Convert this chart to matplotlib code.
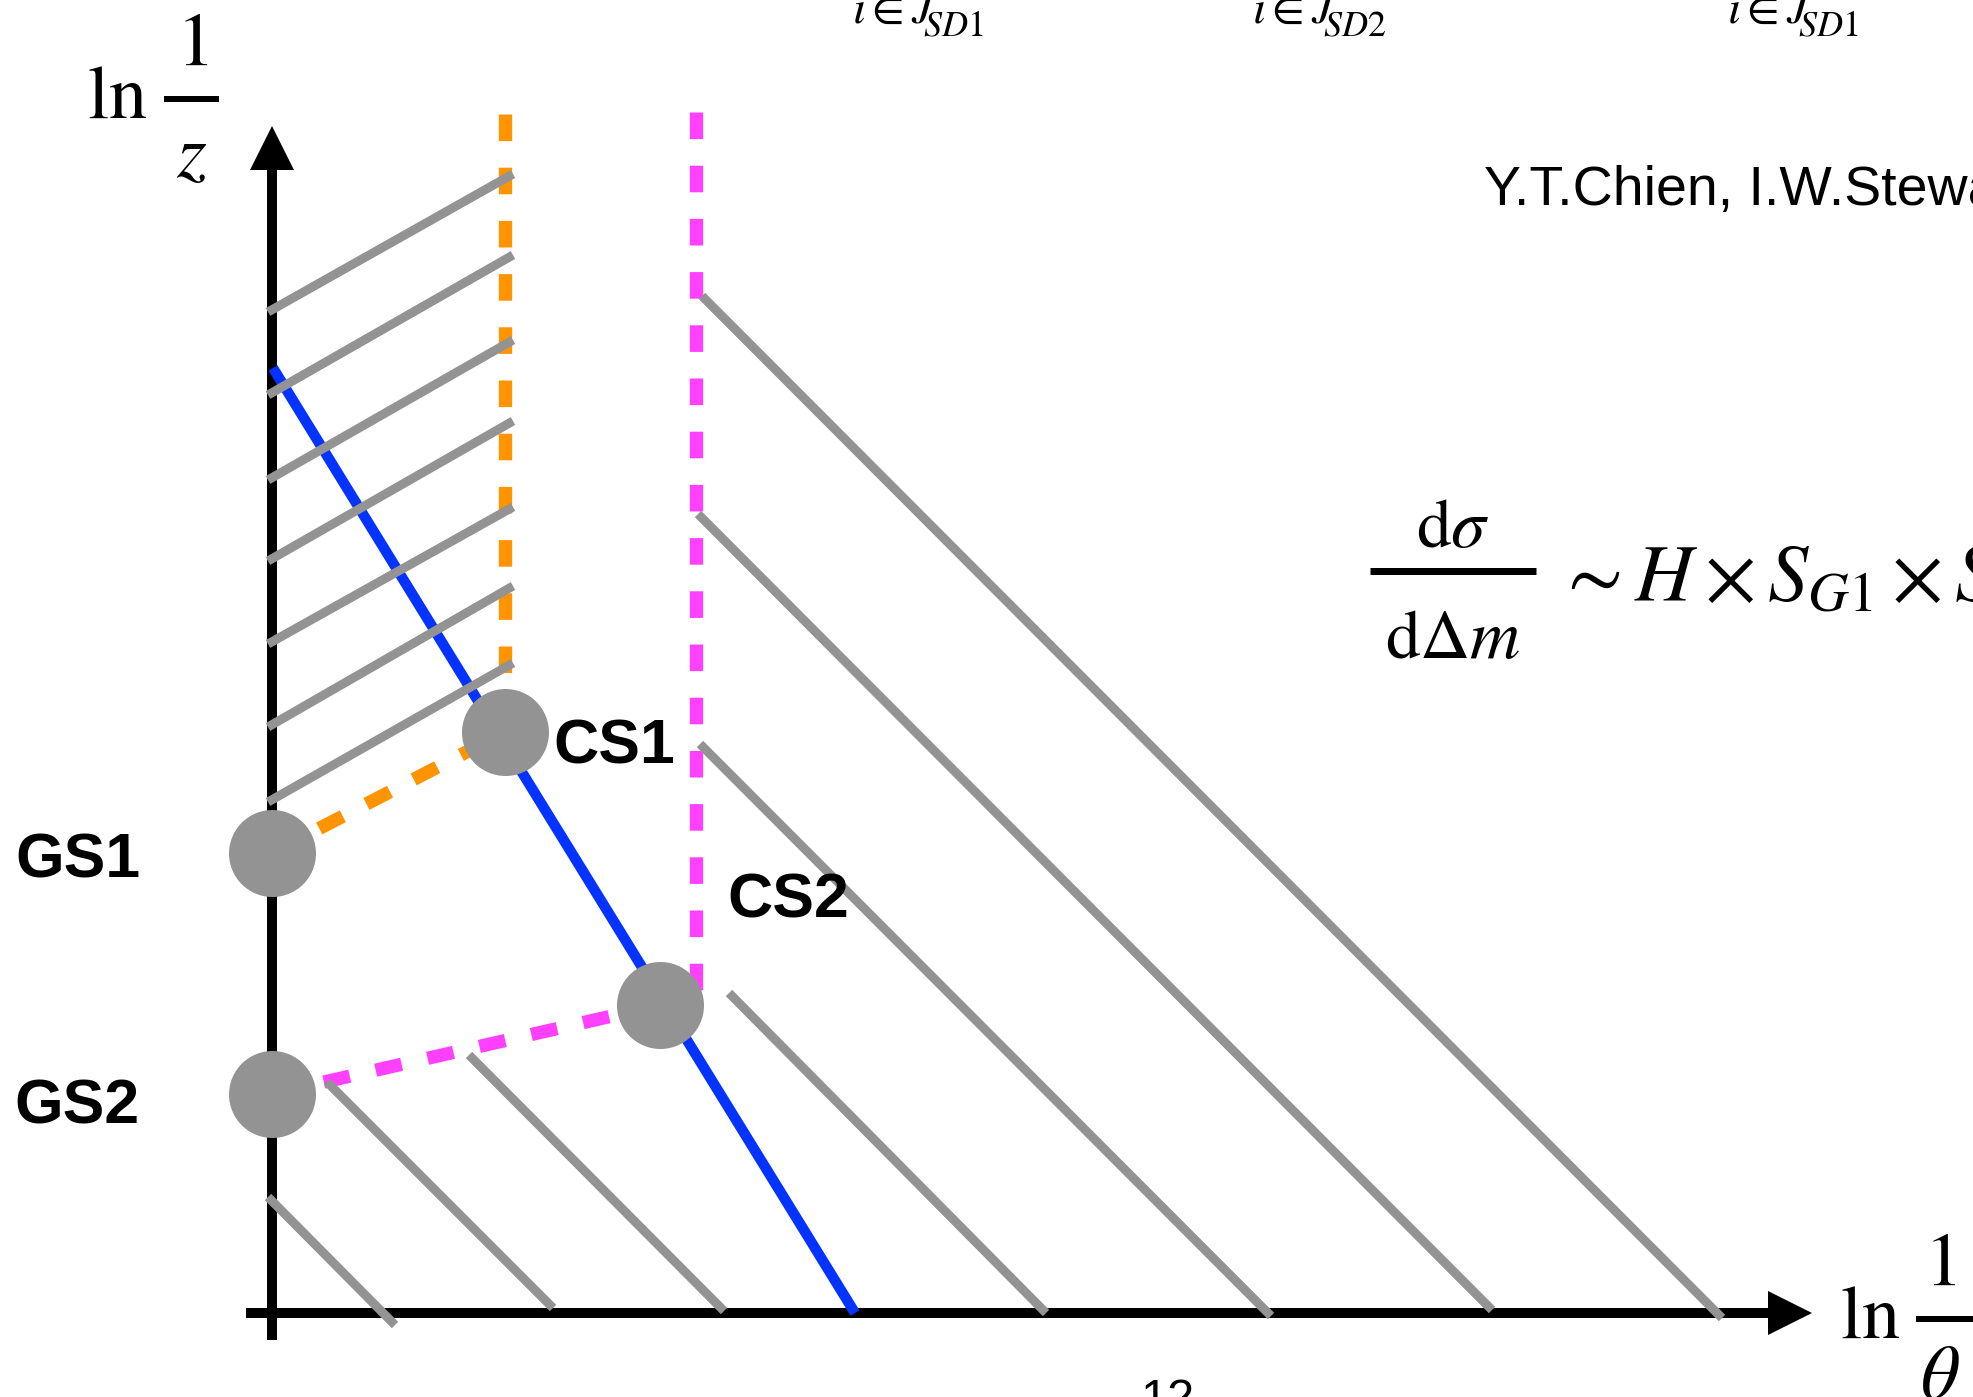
import matplotlib
matplotlib.use("Agg")
import matplotlib.pyplot as plt
import numpy as np

# all coordinates are in pixels of the original slide, y grows downward
W, H = 1973, 1397

GRAY = "#939393"
ORANGE = "#FF9300"
MAGENTA = "#FF40FF"
BLUE = "#0433FF"

# axes of the Lund-like plane
axis_x0, axis_y0 = 272, 1313
v_axis_y = [1340, 170]
h_axis_x = [246, 1768]
v_head_x = [250, 272, 294]
v_head_y = [170, 126, 170]
h_head_x = [1768, 1812, 1768]
h_head_y = [1291, 1313, 1335]

# hatched emissions between the y axis and the orange boundary
hatch_x = [268, 513]
hatch_y_start = [312, 395, 480, 561, 644, 727, 802]
hatch_y_end = [174, 255, 340, 421, 507, 586, 663]

# emissions to the right of the magenta boundary
right_x0 = [702, 698, 700, 729]
right_y0 = [296, 514, 744, 993]
right_x1 = [1722, 1492, 1271, 1046]
right_y1 = [1318, 1310, 1316, 1313]

# emissions below GS2
low_x0 = [268, 327, 469]
low_y0 = [1197, 1082, 1055]
low_x1 = [395, 553, 724]
low_y1 = [1325, 1308, 1311]

# blue line
blue_x = [273, 855]
blue_y = [368, 1313]

# vertical dashed boundaries
orange_x, orange_y = [505, 505], [114, 674]
magenta_x, magenta_y = [696, 696], [112, 992]

# groomed / collinear points
pt_names = ["GS1", "CS1", "GS2", "CS2"]
pt_x = [272, 505, 272, 660]
pt_y = [853, 732, 1094, 1005]
pt_label_x = [15, 553, 14, 727]
pt_label_y = [878, 763, 1123, 918]

# cut-off sum subscripts along the top edge
top_subs = [r"$SD\mathrm{1}$", r"$SD\mathrm{2}$", r"$SD\mathrm{1}$"]
top_main_x = [852, 1252, 1727]
top_sub_x = [923, 1323, 1798]

px = 72 / 100  # points per pixel at dpi 100

plt.rcParams["mathtext.fontset"] = "stix"
fig = plt.figure(figsize=(W / 100, H / 100), dpi=100)
ax = fig.add_axes([0, 0, 1, 1])
ax.set_xlim(0, W)
ax.set_ylim(H, 0)
ax.axis("off")


def fraction(xc, num, den, y_num, y_bar, y_den, bar_x, size, bar_w=6):
    ax.text(xc, y_num, num, fontsize=size, ha="center", va="baseline")
    ax.text(xc, y_den, den, fontsize=size, ha="center", va="baseline")
    ax.plot(bar_x, [y_bar, y_bar], color="black", lw=bar_w * px, solid_capstyle="butt")


# axes
ax.plot([axis_x0, axis_x0], v_axis_y, color="black", lw=10 * px, solid_capstyle="butt", zorder=1)
ax.plot(h_axis_x, [axis_y0, axis_y0], color="black", lw=10 * px, solid_capstyle="butt", zorder=1)
ax.fill(v_head_x, v_head_y, color="black", lw=0, zorder=1)
ax.fill(h_head_x, h_head_y, color="black", lw=0, zorder=1)

dash_kw = dict(lw=13.3 * px, linestyle=(0, (2.0, 2.0)), dash_capstyle="butt", zorder=2)
ax.plot(orange_x, orange_y, color=ORANGE, **dash_kw)
ax.plot(magenta_x, magenta_y, color=MAGENTA, **dash_kw)
ax.plot([pt_x[0], pt_x[1]], [pt_y[0], pt_y[1]], color=ORANGE, **dash_kw)
ax.plot([pt_x[2], pt_x[3]], [pt_y[2], pt_y[3]], color=MAGENTA, **dash_kw)

ax.plot(blue_x, blue_y, color=BLUE, lw=10.5 * px, solid_capstyle="butt", zorder=3)

gray_kw = dict(color=GRAY, lw=9 * px, solid_capstyle="butt", zorder=4)
for y0, y1 in zip(hatch_y_start, hatch_y_end):
    ax.plot(hatch_x, [y0, y1], **gray_kw)
for x0, y0, x1, y1 in zip(right_x0, right_y0, right_x1, right_y1):
    ax.plot([x0, x1], [y0, y1], **gray_kw)
for x0, y0, x1, y1 in zip(low_x0, low_y0, low_x1, low_y1):
    ax.plot([x0, x1], [y0, y1], **gray_kw)

ax.scatter(pt_x, pt_y, s=(87 * px) ** 2, color=GRAY, lw=0, zorder=5)

bold = dict(family="Liberation Sans", fontweight="bold", fontsize=45, ha="left", va="baseline", zorder=6)
for name, lx, ly in zip(pt_names, pt_label_x, pt_label_y):
    ax.text(lx, ly, name, **bold)

# axis titles
ax.text(87, 118, r"$\ln$", fontsize=55, ha="left", va="baseline")
fraction(192, r"$1$", r"$z$", 65, 99, 177, [164, 219], 55)
ax.text(1840, 1338, r"$\ln$", fontsize=55, ha="left", va="baseline")
fraction(1940, r"$1$", r"$\theta$", 1285, 1319, 1398, [1916, 1976], 55)

# cross section formula
fraction(1453, r"$\mathrm{d}\sigma$", r"$\mathrm{d}\Delta m$", 547, 571, 658, [1370, 1536], 50, bar_w=7)
ax.text(1556, 602, r"$\sim H\times S_{G1}\times S_{G2}$", fontsize=58, ha="left", va="baseline")

for sub, mx, sx in zip(top_subs, top_main_x, top_sub_x):
    ax.text(mx, 23, r"$i{\in}J$", fontsize=34, ha="left", va="baseline")
    ax.text(sx, 35, sub, fontsize=26, ha="left", va="baseline")

ax.text(1484, 205, "Y.T.Chien, I.W.Stewart", family="Liberation Sans", fontsize=40, ha="left", va="baseline")
ax.text(1140, 1413, "12", family="Liberation Sans", fontsize=35, ha="left", va="baseline")

fig.savefig("out.png", dpi=100)
